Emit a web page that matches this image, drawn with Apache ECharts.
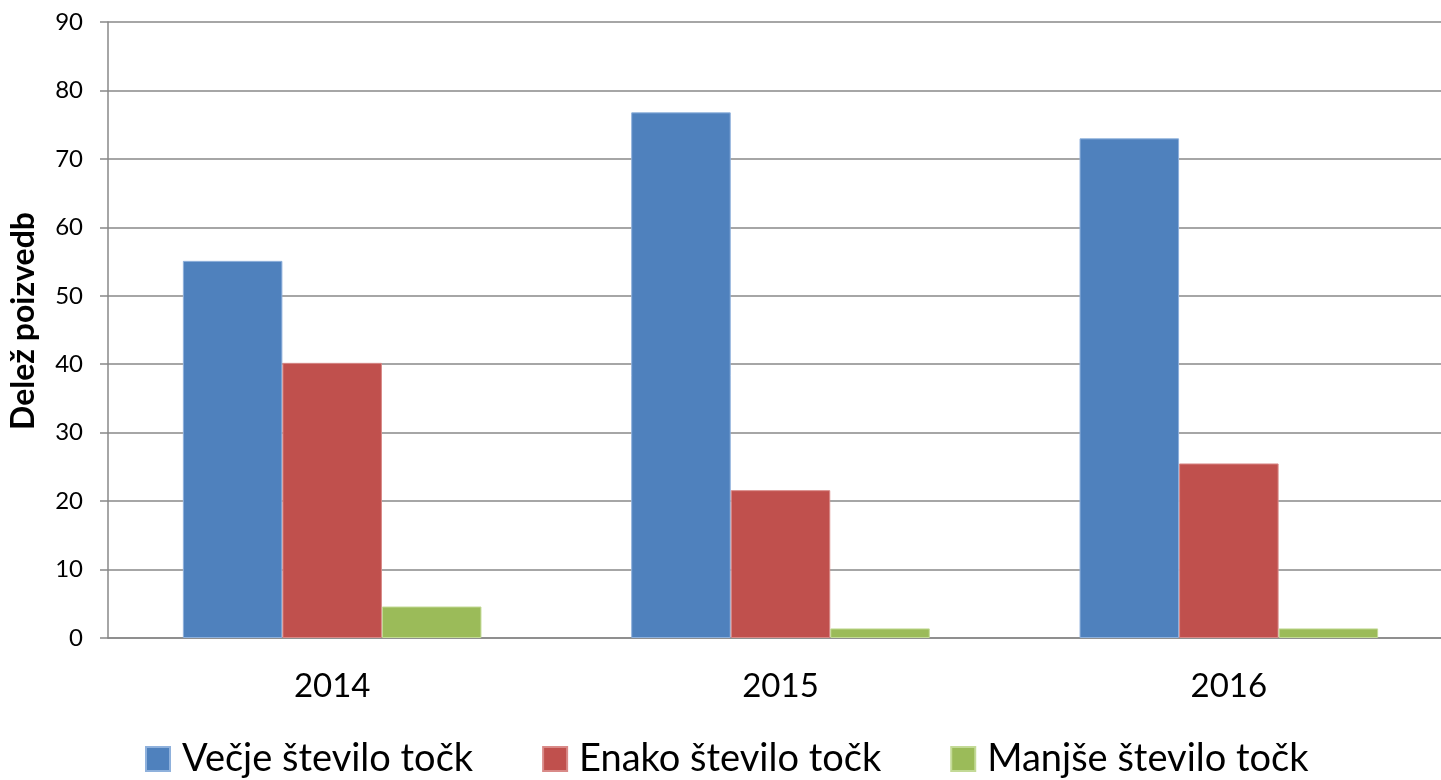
<!DOCTYPE html>
<html>
<head>
<meta charset="utf-8">
<script src="https://cdn.jsdelivr.net/npm/echarts@6/dist/echarts.min.js"></script>
<style>
  html, body { margin: 0; padding: 0; background: #fff; }
  #chart { width: 1441px; height: 780px; }
</style>
</head>
<body>
<div id="chart"></div>
<script>
// Years on the category axis
const years = ['2014', '2015', '2016'];
// Share of queries (%) per outcome
const vecje = [55.1, 76.8, 73.0];
const enako = [40.2, 21.6, 25.5];
const manjse = [4.6, 1.4, 1.4];
// Value-axis ticks
const yMin = 0, yMax = 90, yStep = 10;

const FONT = 'Lato, "Open Sans", sans-serif';
const GRID = '#888888';

function barSeries(name, data, color, edge) {
  return {
    name: name,
    type: 'bar',
    data: data,
    barGap: '0%',
    barCategoryGap: '33.4%',
    itemStyle: { color: color, borderColor: edge, borderWidth: 1 },
    emphasis: { disabled: true }
  };
}

const chart = echarts.init(document.getElementById('chart'));
chart.setOption({
  animation: false,
  textStyle: { fontFamily: FONT },
  grid: { left: 108, top: 22, bottom: 142, right: -12, containLabel: false, outerBoundsMode: 'none' },
  legend: {
    top: 735,
    left: 140,
    icon: 'rect',
    itemWidth: 24,
    itemHeight: 24,
    itemGap: 69,
    textStyle: { fontFamily: FONT, fontSize: 38, color: '#000', padding: [0, 0, 0, 7] },
    data: ['Večje število točk', 'Enako število točk', 'Manjše število točk']
  },
  xAxis: {
    type: 'category',
    data: years,
    axisLine: { lineStyle: { color: GRID, width: 1.5 } },
    axisTick: { show: false },
    axisLabel: { fontSize: 33, color: '#000', margin: 32, fontFamily: FONT }
  },
  yAxis: {
    type: 'value',
    min: yMin,
    max: yMax,
    interval: yStep,
    name: 'Delež poizvedb',
    nameLocation: 'middle',
    nameRotate: 90,
    nameGap: 68,
    nameTextStyle: { fontFamily: FONT, fontSize: 32, fontWeight: 'bold', color: '#000', padding: [0, 0, 0, 18] },
    axisLine: { show: true, lineStyle: { color: GRID, width: 1.5 } },
    axisTick: { show: true, length: 8, lineStyle: { color: GRID, width: 1.5 } },
    axisLabel: { fontSize: 24, color: '#000', margin: 25, fontFamily: FONT },
    splitLine: { lineStyle: { color: GRID, width: 1.5 } }
  },
  series: [
    barSeries('Večje število točk', vecje, '#4F81BD', '#8fb1dc'),
    barSeries('Enako število točk', enako, '#C0504D', '#d98a88'),
    barSeries('Manjše število točk', manjse, '#9BBB59', '#c3da96')
  ]
});
</script>
</body>
</html>
